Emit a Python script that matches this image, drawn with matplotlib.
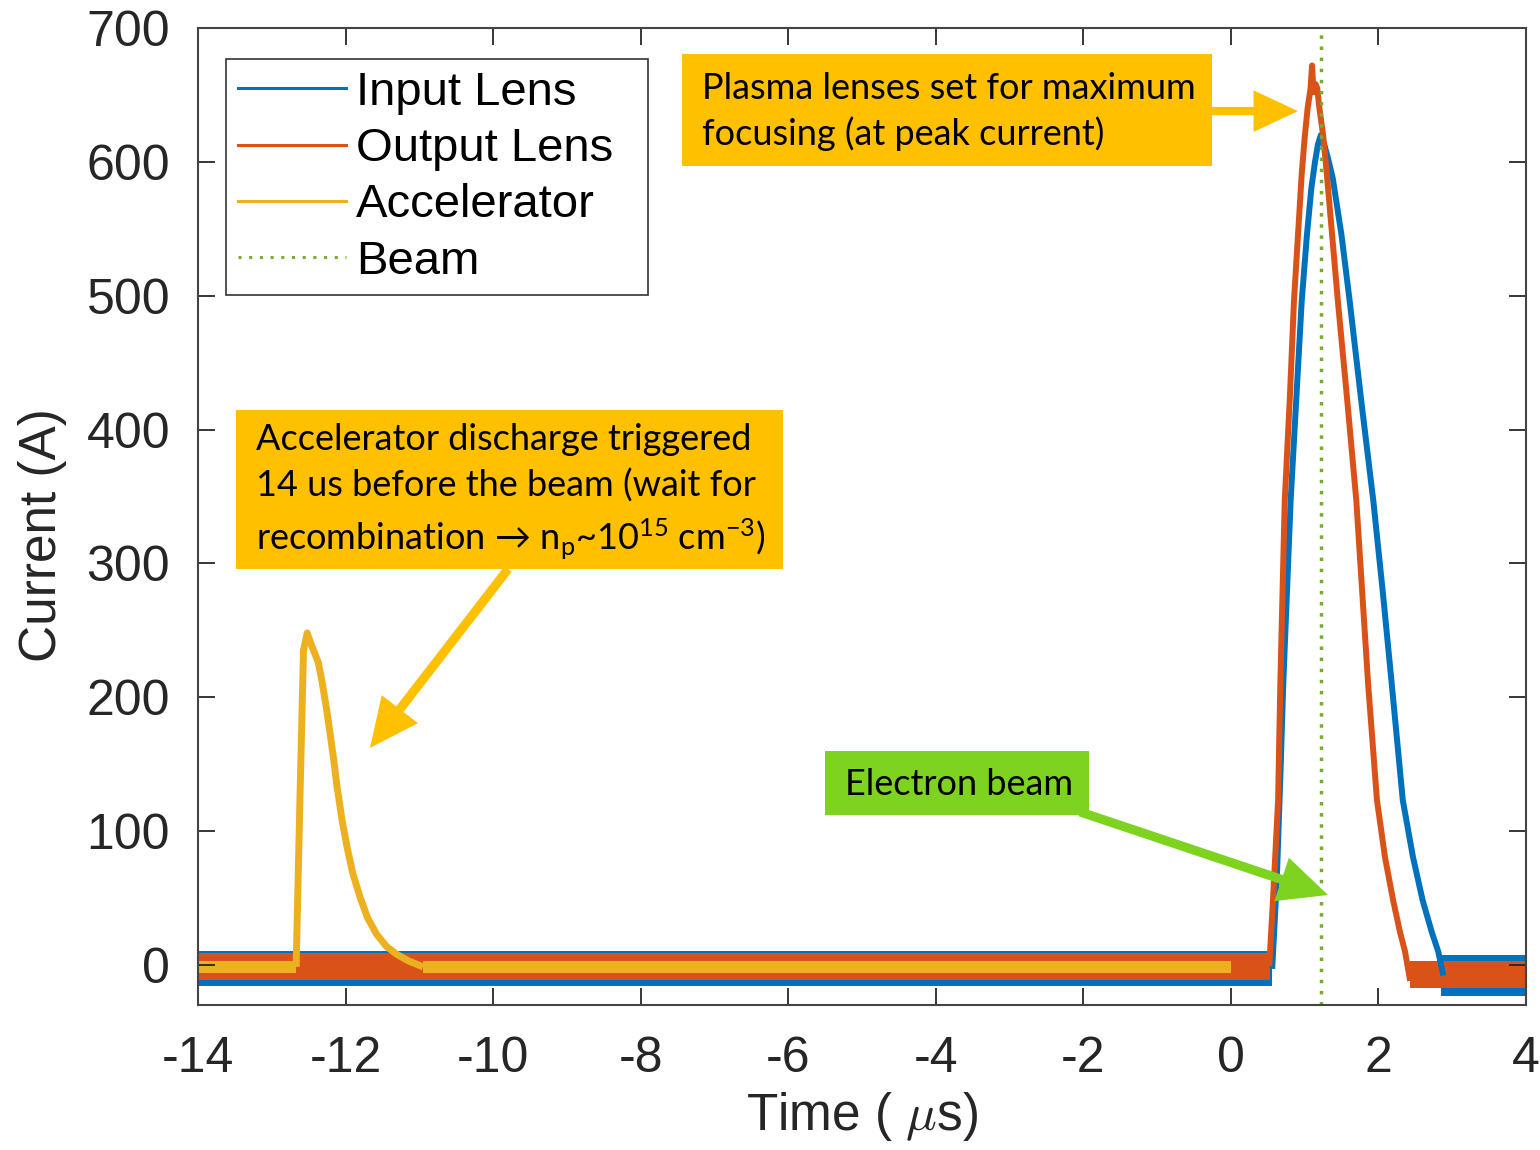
import matplotlib
matplotlib.use('Agg')
import matplotlib.pyplot as plt
from matplotlib.lines import Line2D
from matplotlib.patches import Rectangle, ArrowStyle

plt.rcParams['font.family'] = ['Liberation Sans', 'DejaVu Sans']
plt.rcParams['axes.unicode_minus'] = False
plt.rcParams['mathtext.fontset'] = 'custom'
plt.rcParams['mathtext.rm'] = 'Lato'
plt.rcParams['mathtext.it'] = 'Lato:italic'

# pulse shapes (time in us, current in A)
input_t = [0.56, 0.62, 0.67, 0.71, 0.81, 0.96, 1.03, 1.09, 1.14, 1.18, 1.22,
           1.26, 1.31, 1.38, 1.50, 1.61, 1.77, 1.93, 2.06, 2.18, 2.33, 2.47,
           2.60, 2.72, 2.81, 2.88]
input_i = [-3, 60, 140, 210, 347, 496, 545, 580, 600, 613, 620,
           614, 604, 588, 545, 496, 420, 347, 278, 210, 123, 80,
           48, 25, 10, -8]

output_t = [0.52, 0.57, 0.64, 0.67, 0.73, 0.80, 0.855, 0.96, 1.00, 1.04, 1.08,
            1.10, 1.12, 1.15, 1.17, 1.20, 1.25, 1.30, 1.45, 1.58, 1.70, 1.86,
            1.98, 2.09, 2.20, 2.29, 2.36, 2.43]
output_i = [-1, 48, 123, 210, 347, 425, 496, 591, 618, 640, 655,
            672, 652, 658, 655, 640, 620, 591, 496, 420, 347, 210,
            123, 80, 48, 25, 10, -12]

accel_t = [-12.67, -12.62, -12.57, -12.52, -12.47, -12.42, -12.37, -12.32,
           -12.26, -12.21, -12.16, -12.12, -12.05, -11.98, -11.90, -11.80,
           -11.70, -11.58, -11.45, -11.31, -11.15, -10.95]
accel_i = [-1.5, 120, 235, 248, 240, 233, 226, 212,
           192, 173, 153, 135, 109, 88, 68, 50,
           35, 23, 14, 8, 3, -1.5]

beam_t = 1.22

# noise bands on the flat parts: start, end, low, high
input_band_start = [-14.0, 2.85]
input_band_end = [0.56, 4.0]
input_band_lo = [-16, -23]
input_band_hi = [10.5, 7]

output_band_start = [-14.0, 2.43]
output_band_end = [0.53, 4.0]
output_band_lo = [-11, -17]
output_band_hi = [9, 3]

accel_band_start = [-14.0, -10.95]
accel_band_end = [-12.67, 0.0]
accel_band_lo = [-6, -6]
accel_band_hi = [3, 3]

blue = '#0072BD'
red = '#D95319'
yellow = '#EDB120'
green = '#77AC30'
box_orange = '#FFC000'
box_green = '#7ED321'

fig = plt.figure(figsize=(15.4, 11.5), dpi=100)
ax = fig.add_axes([198 / 1540, 1 - 1005 / 1150, 1328 / 1540, 977 / 1150])


def draw_trace(t, i, b0, b1, lo, hi, color, lw):
    for k in range(len(b0)):
        ax.fill_between([b0[k], b1[k]], [lo[k], lo[k]], [hi[k], hi[k]],
                        color=color, lw=0)
    ax.plot(t, i, color=color, lw=lw, solid_joinstyle='round',
            solid_capstyle='butt')


draw_trace(input_t, input_i, input_band_start, input_band_end,
           input_band_lo, input_band_hi, blue, 4.3)
draw_trace(output_t, output_i, output_band_start, output_band_end,
           output_band_lo, output_band_hi, red, 4.3)
draw_trace(accel_t, accel_i, accel_band_start, accel_band_end,
           accel_band_lo, accel_band_hi, yellow, 5.0)
ax.plot([beam_t, beam_t], [-30, 700], color=green, lw=2.5,
        linestyle=(0, (1, 2.2)))

ax.set_xlim(-14, 4)
ax.set_ylim(-30, 700)
ax.set_xticks(range(-14, 5, 2))
ax.set_yticks(range(0, 701, 100))
ax.tick_params(direction='in', length=12, width=1.3, labelsize=36,
               colors='#262626', top=True, right=True)
ax.tick_params(axis='y', pad=20)
ax.tick_params(axis='x', pad=22)
for s in ax.spines.values():
    s.set_color('#444444')
    s.set_linewidth(1.5)
ax.set_xlabel('Time ( $\\mu$s)', fontsize=37, color='#262626',
              math_fontfamily='cm', labelpad=6)
ax.set_ylabel('Current (A)', fontsize=37, color='#262626')
ax.yaxis.set_label_coords(-0.099, 0.481)

handles = [Line2D([], [], color=blue, lw=2.2),
           Line2D([], [], color=red, lw=2.2),
           Line2D([], [], color=yellow, lw=2.2),
           Line2D([], [], color=green, lw=2.2, linestyle=(0, (1, 2.5)))]
leg = ax.legend(handles, ['Input Lens', 'Output Lens', 'Accelerator', 'Beam'],
                loc='upper left', bbox_to_anchor=(0.0211, 0.5, 0.3178, 0.4683),
                mode='expand', borderaxespad=0, fontsize=34, fancybox=False,
                framealpha=1, edgecolor='#333333', handlelength=2.3,
                handletextpad=0.2, labelspacing=0.26, borderpad=0.25)
leg.get_frame().set_linewidth(1.2)

note_font = ['Lato', 'Noto Sans', 'DejaVu Sans']

# annotation boxes (x0, x1, y0, y1 in data units)
ax.add_patch(Rectangle((-7.44, 596.9), 7.184, 83.7, facecolor=box_orange,
                       lw=0, clip_on=False, zorder=5))
ax.text(-7.17, 637.5, 'Plasma lenses set for maximum\nfocusing (at peak current)',
        family=note_font, fontsize=26, va='center', ha='left',
        linespacing=1.42, zorder=6)

ax.add_patch(Rectangle((-13.485, 295.7), 7.414, 118.8, facecolor=box_orange,
                       lw=0, clip_on=False, zorder=5))
ax.text(-13.21, 353, 'Accelerator discharge triggered\n'
        '14 us before the beam (wait for\n'
        'recombination \u2192 n$_\\mathrm{p}$~10$^{\\mathrm{15}}$ cm$^{\\mathrm{-3}}$)',
        family=note_font, fontsize=26, va='center', ha='left',
        linespacing=1.45, zorder=6)

ax.add_patch(Rectangle((-5.502, 112.1), 3.578, 47.8, facecolor=box_green,
                       lw=0, clip_on=False, zorder=5))
ax.text(-5.23, 134.5, 'Electron beam', family=note_font, fontsize=26,
        va='center', ha='left', zorder=6)

arrow = ArrowStyle.Simple(head_length=1.6, head_width=1.5, tail_width=0.3)
ax.annotate('', xy=(0.909, 637.9), xytext=(-0.256, 637.9),
            arrowprops=dict(arrowstyle=arrow, mutation_scale=20, lw=0,
                            color=box_orange, shrinkA=0, shrinkB=0), zorder=5)
ax.annotate('', xy=(-11.669, 162.1), xytext=(-9.798, 295.7),
            arrowprops=dict(arrowstyle=arrow, mutation_scale=22, lw=0,
                            color=box_orange, shrinkA=0, shrinkB=0), zorder=5)
ax.annotate('', xy=(1.316, 52.2), xytext=(-2.045, 114.3),
            arrowprops=dict(arrowstyle=arrow, mutation_scale=22, lw=0,
                            color=box_green, shrinkA=0, shrinkB=0), zorder=5)

fig.savefig('out.png', dpi=100)
